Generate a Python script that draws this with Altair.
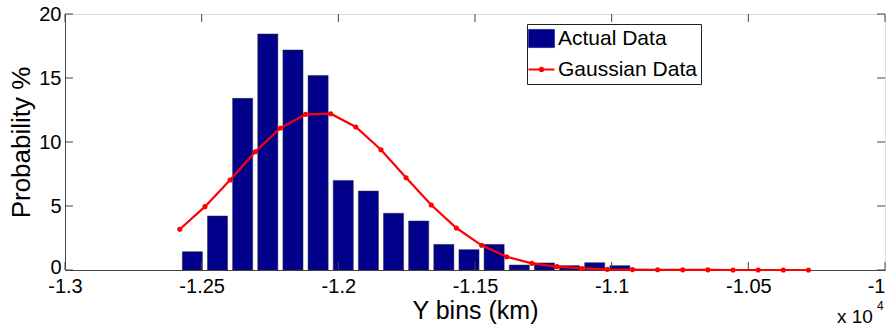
import altair as alt
import pandas as pd

# ---- data ----
bin_centers = [-12534, -12442, -12350, -12258, -12166, -12074, -11982, -11890, -11798,
               -11706, -11614, -11522, -11430, -11338, -11246, -11154, -11062, -10970]
actual_pct = [1.43, 4.22, 13.41, 18.44, 17.19, 15.2, 7.0, 6.17, 4.43,
              3.83, 2.0, 1.59, 2.0, 0.39, 0.55, 0.34, 0.57, 0.34]

gauss_x = [-12580, -12488, -12396, -12304, -12212, -12120, -12028, -11936, -11844,
           -11752, -11660, -11568, -11476, -11384, -11292, -11200, -11108, -11016,
           -10924, -10832, -10740, -10648, -10556, -10464, -10372, -10280]
gauss_pct = [3.18, 4.95, 7.03, 9.24, 11.09, 12.16, 12.21, 11.17, 9.4,
             7.21, 5.08, 3.28, 1.93, 1.04, 0.52, 0.26, 0.12, 0.05,
             0.03, 0.02, 0.01, 0.01, 0.0, 0.0, 0.0, 0.0]

x_ticks = [-13000, -12500, -12000, -11500, -11000, -10500, -10000]
y_ticks = [0, 5, 10, 15, 20]
series = ["Actual Data", "Gaussian Data"]
BIN_WIDTH = 92

W, H = 820, 256
FONT = "Liberation Sans"
NAVY = "#00008B"
RED = "#FF0000"

bars_df = pd.DataFrame({"x": bin_centers, "p": actual_pct, "s": "Actual Data"})
gauss_df = pd.DataFrame({"x": gauss_x, "p": gauss_pct, "s": "Gaussian Data"})
xt_df = pd.DataFrame({"v": x_ticks})
yt_df = pd.DataFrame({"v": y_ticks})

xscale = alt.Scale(domain=[-13000, -10000], nice=False, zero=False)
yscale = alt.Scale(domain=[0, 20], nice=False)

rect_path = "M-1,-0.7H1V0.7H-1Z"
line_path = "M-1,0H1M-0.13,0A0.13,0.13,0,1,1,0.13,0A0.13,0.13,0,1,1,-0.13,0Z"

color = alt.Color(
    "s:N",
    scale=alt.Scale(domain=series, range=[NAVY, RED]),
    legend=alt.Legend(
        title=None,
        orient="none",
        legendX=462,
        legendY=10,
        strokeColor="#222222",
        fillColor="white",
        padding=4,
        rowPadding=9,
        labelFont=FONT,
        labelFontSize=21,
        labelColor="black",
        labelOffset=6,
        symbolSize=676,
        symbolType=alt.ExprRef(expr=f"datum.value == 'Actual Data' ? '{rect_path}' : '{line_path}'"),
        symbolStrokeColor=alt.ExprRef(expr="datum.value == 'Actual Data' ? '#555555' : '#FF0000'"),
        symbolStrokeWidth=alt.ExprRef(expr="datum.value == 'Actual Data' ? 0.5 : 2"),
        symbolFillColor=alt.ExprRef(expr="datum.value == 'Actual Data' ? '#00008B' : '#FF0000'"),
        symbolOpacity=1,
        cornerRadius=0,
    ),
)

bars = alt.Chart(bars_df).transform_calculate(
    x0=f"datum.x - 0.4*{BIN_WIDTH}", x1=f"datum.x + 0.4*{BIN_WIDTH}"
).mark_bar(stroke="#333333", strokeWidth=0.5, opacity=1).encode(
    x=alt.X("x0:Q", scale=xscale,
            axis=alt.Axis(values=x_ticks, title="Y bins (km)",
                          labelExpr="datum.value/10000 + ''",
                          labelAlign=alt.ExprRef(expr="datum.value == -10000 ? 'right' : 'center'"),
                          labelFont=FONT, labelFontSize=20, labelColor="black",
                          titleFont=FONT, titleFontSize=25, titleFontWeight="normal",
                          titleColor="black", titlePadding=2,
                          tickSize=0, labelPadding=6, grid=False,
                          domainColor="#444444", labelFlush=False)),
    x2="x1:Q",
    y=alt.Y("p:Q", scale=yscale,
            axis=alt.Axis(values=y_ticks, title="Probability %",
                          labelFont=FONT, labelFontSize=20, labelColor="black",
                          labelOffset=alt.ExprRef(expr="datum.value == 0 ? -3 : 0"),
                          titleFont=FONT, titleFontSize=26, titleFontWeight="normal",
                          titleColor="black", titlePadding=4,
                          tickSize=0, labelPadding=4, grid=False,
                          domainColor="#444444", labelFlush=False)),
    y2=alt.datum(0),
    color=color,
)

line = alt.Chart(gauss_df).mark_line(strokeWidth=2.2, point=alt.OverlayMarkDef(filled=True, size=26, color=RED)).encode(
    x=alt.X("x:Q", scale=xscale),
    y=alt.Y("p:Q", scale=yscale),
    color=color,
)

# inward tick marks (MATLAB style), on all four sides
tick_len = 8
bt = alt.Chart(xt_df).mark_rule(color="#444444", strokeWidth=1).encode(
    x=alt.X("v:Q", scale=xscale), y=alt.value(H), y2=alt.value(H - tick_len))
tt = alt.Chart(xt_df).mark_rule(color="#444444", strokeWidth=1).encode(
    x=alt.X("v:Q", scale=xscale), y=alt.value(0), y2=alt.value(tick_len))
lt = alt.Chart(yt_df).mark_rule(color="#444444", strokeWidth=1).encode(
    y=alt.Y("v:Q", scale=yscale), x=alt.value(0), x2=alt.value(tick_len))
rt = alt.Chart(yt_df).mark_rule(color="#444444", strokeWidth=1).encode(
    y=alt.Y("v:Q", scale=yscale), x=alt.value(W), x2=alt.value(W - tick_len))

# exponent note "x 10^4"
exp_df = pd.DataFrame({"t": ["x 10"], "e": ["4"]})
exp_base = alt.Chart(exp_df).mark_text(font=FONT, fontSize=19, align="left", baseline="alphabetic", color="black").encode(
    text="t:N", x=alt.value(W - 48), y=alt.value(H + 53))
exp_sup = alt.Chart(exp_df).mark_text(font=FONT, fontSize=12, align="left", baseline="alphabetic", color="black").encode(
    text="e:N", x=alt.value(W - 8), y=alt.value(H + 40))

chart = alt.layer(bars, line, bt, tt, lt, rt, exp_base, exp_sup).properties(
    width=W, height=H,
    autosize=alt.AutoSizeParams(type="none"),
    padding={"left": 65, "top": 14, "right": 3, "bottom": 56},
).configure_view(stroke="#444444", strokeWidth=1).configure(background="white")

chart.save("out.html", embed_options={"renderer": "svg", "actions": False})
